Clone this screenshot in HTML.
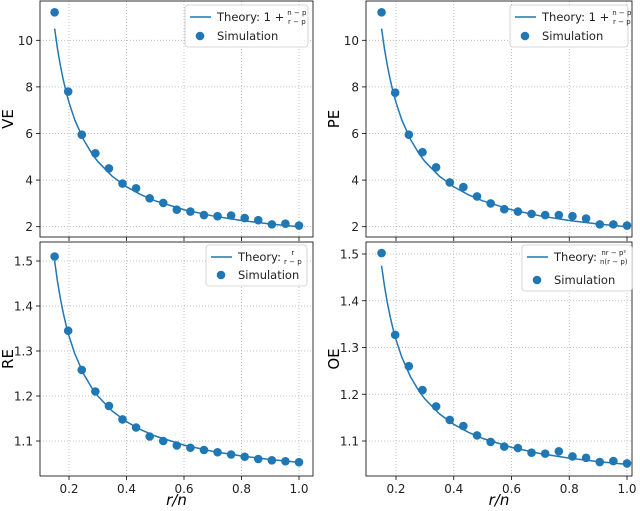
<!DOCTYPE html>
<html><head><meta charset="utf-8"><style>
body{margin:0;background:#fff}
svg{display:block;font-family:"DejaVu Sans","Liberation Sans",sans-serif}
</style></head><body>
<svg id="fig" width="640" height="511" viewBox="0 0 640 511"></svg>
<script>
const simX = [0.15,0.1972,0.2444,0.2917,0.3389,0.3861,0.4333,0.4806,0.5278,0.575,0.6222,0.6694,0.7167,0.7639,0.8111,0.8583,0.9056,0.9528,1.0];
const veSim = [11.2,7.8,5.95,5.15,4.5,3.85,3.65,3.22,3.02,2.73,2.65,2.5,2.45,2.48,2.37,2.28,2.1,2.13,2.05];
const peSim = [11.2,7.75,5.95,5.2,4.55,3.9,3.7,3.3,3.0,2.75,2.65,2.55,2.5,2.5,2.45,2.35,2.1,2.1,2.05];
const reSim = [1.51,1.345,1.258,1.21,1.178,1.148,1.13,1.11,1.1,1.09,1.085,1.08,1.075,1.07,1.065,1.06,1.057,1.055,1.053];
const oeSim = [1.502,1.327,1.26,1.209,1.174,1.145,1.132,1.112,1.098,1.088,1.085,1.075,1.073,1.078,1.067,1.064,1.055,1.057,1.052];
const thX = [0.15,0.16,0.17,0.18,0.19,0.2,0.22,0.25,0.28,0.3,0.35,0.4,0.45,0.5,0.6,0.7,0.8,0.9,1.0];
const veTh = [10.5,9.636,8.917,8.308,7.786,7.333,6.588,5.75,5.13,4.8,4.167,3.714,3.375,3.111,2.727,2.462,2.267,2.118,2.0];
const reTh = [1.5,1.4545,1.4167,1.3846,1.3571,1.3333,1.2941,1.25,1.2174,1.2,1.1667,1.1429,1.125,1.1111,1.0909,1.0769,1.0667,1.0588,1.0526];
const oeTh = [1.475,1.4318,1.3958,1.3654,1.3393,1.3167,1.2794,1.2375,1.2065,1.19,1.1583,1.1357,1.1188,1.1056,1.0864,1.0731,1.0633,1.0559,1.05];
const xTicks = [0.2,0.4,0.6,0.8,1.0];
const bigTicks = [2,4,6,8,10];
const smallTicks = [1.1,1.2,1.3,1.4,1.5];

const NS="http://www.w3.org/2000/svg";
const svg=document.getElementById('fig');
function mk(tag,attrs,parent){const e=document.createElementNS(NS,tag);for(const k in attrs)e.setAttribute(k,attrs[k]);(parent||svg).appendChild(e);return e;}
const C="#1f77b4";

const panels=[
 {name:'ve',label:'VE',L:40,R:313,T:1,B:237,x0:69,x1:299,yv0:2,yp0:226.7,yv1:10,yp1:40.3,ticks:bigTicks,fmt:v=>String(v),sim:veSim,th:veTh,xlab:false,
  leg:{x:185,y:5,w:123,h:42,pre:'Theory: 1 +',num:'n − p',den:'r − p'}},
 {name:'pe',label:'PE',L:366,R:632,T:1,B:237,x0:396,x1:627,yv0:2,yp0:226.7,yv1:10,yp1:40.3,ticks:bigTicks,fmt:v=>String(v),sim:peSim,th:veTh,xlab:false,
  leg:{x:510,y:5,w:118,h:42,pre:'Theory: 1 +',num:'n − p',den:'r − p'}},
 {name:'re',label:'RE',L:40,R:313,T:242,B:476,x0:69,x1:299,yv0:1.1,yp0:441,yv1:1.5,yp1:261,ticks:smallTicks,fmt:v=>v.toFixed(1),sim:reSim,th:reTh,xlab:true,
  leg:{x:206,y:245,w:101,h:41,pre:'Theory:',num:'r',den:'r − p'}},
 {name:'oe',label:'OE',L:366,R:632,T:242,B:476,x0:396,x1:627,yv0:1.1,yp0:441,yv1:1.5,yp1:254,ticks:smallTicks,fmt:v=>v.toFixed(1),sim:oeSim,th:oeTh,xlab:true,
  leg:{x:522,y:245,w:110,h:46,pre:'Theory:',num:'nr − p²',den:'n(r − p)'}}
];

panels.forEach(p=>{
  const g=mk('g',{});
  
  
  const sx=v=>p.x0+(v-0.2)*(p.x1-p.x0)/0.8;
  const sy=v=>p.yp0+(v-p.yv0)*(p.yp1-p.yp0)/(p.yv1-p.yv0);
  xTicks.forEach(t=>{
    const x=sx(t);
    const gl=mk('line',{x1:x,x2:x,y1:p.T,y2:p.B,stroke:'#b0b0b0','stroke-width':0.8,'stroke-dasharray':'1,2'},g);
    
    
    mk('line',{x1:x,x2:x,y1:p.B,y2:p.B+4,stroke:'#000','stroke-width':0.8},g);
    if(p.xlab){const t2=mk('text',{x:x,y:p.B+17,'font-size':12,'text-anchor':'middle',fill:'#222'},g);t2.textContent=t.toFixed(1);
      }
  });
  p.ticks.forEach(t=>{
    const y=sy(t);
    const gl=mk('line',{x1:p.L,x2:p.R,y1:y,y2:y,stroke:'#b0b0b0','stroke-width':0.8,'stroke-dasharray':'1,2'},g);
    
    
    mk('line',{x1:p.L-4,x2:p.L,y1:y,y2:y,stroke:'#000','stroke-width':0.8},g);
    const tl=mk('text',{x:p.L-7,y:y+4.5,'font-size':12,'text-anchor':'end',fill:'#222'},g);tl.textContent=p.fmt(t);
    
  });
  const line=mk('polyline',{points:p.th.map((v,i)=>sx(thX[i])+','+sy(v)).join(' '),fill:'none',stroke:C,'stroke-width':1.5},g);
  
  
  p.sim.forEach((v,i)=>{
    const c=mk('circle',{cx:sx(simX[i]),cy:sy(v),r:4.3,fill:C},g);
    
    
  });
  const fr=mk('rect',{x:p.L,y:p.T,width:p.R-p.L,height:p.B-p.T,fill:'none',stroke:'#000','stroke-width':0.8},g);
  
  
  const yl=mk('text',{x:0,y:0,'font-size':15,'text-anchor':'middle',fill:'#000',transform:`translate(${p.L-27},${(p.T+p.B)/2}) rotate(-90)`},g);
  yl.textContent=p.label;
  
  
  if(p.xlab){const xl=mk('text',{x:(p.L+p.R)/2,y:505,'font-size':15,'text-anchor':'middle','font-style':'italic',fill:'#000'},g);
    xl.textContent='r/n';}
  const lg=mk('g',{},g);
  
  
  const L=p.leg;
  mk('rect',{x:L.x,y:L.y,width:L.w,height:L.h,rx:3,fill:'#fff','fill-opacity':0.85,stroke:'#ccc','stroke-width':0.8},lg);
  mk('line',{x1:L.x+5,x2:L.x+26,y1:L.y+12,y2:L.y+12,stroke:C,'stroke-width':1.5},lg);
  const lt=mk('text',{x:L.x+32,y:L.y+16,'font-size':11.5,fill:'#222'},lg);lt.textContent=L.pre;
  const fx=L.x+32+lt.getComputedTextLength()+3;
  const nm=mk('text',{x:fx,y:L.y+10,'font-size':7,fill:'#222'},lg);nm.textContent=L.num;
  const dn=mk('text',{x:fx,y:L.y+19,'font-size':7,fill:'#222'},lg);dn.textContent=L.den;
  const w=Math.max(nm.getComputedTextLength(),dn.getComputedTextLength());
  nm.setAttribute('x',fx+(w-nm.getComputedTextLength())/2);
  dn.setAttribute('x',fx+(w-dn.getComputedTextLength())/2);
  mk('circle',{cx:L.x+15,cy:L.y+L.h-11,r:4.3,fill:C},lg);
  const ls=mk('text',{x:L.x+32,y:L.y+L.h-7,'font-size':11.5,fill:'#222'},lg);ls.textContent='Simulation';
});
</script>
</body></html>
